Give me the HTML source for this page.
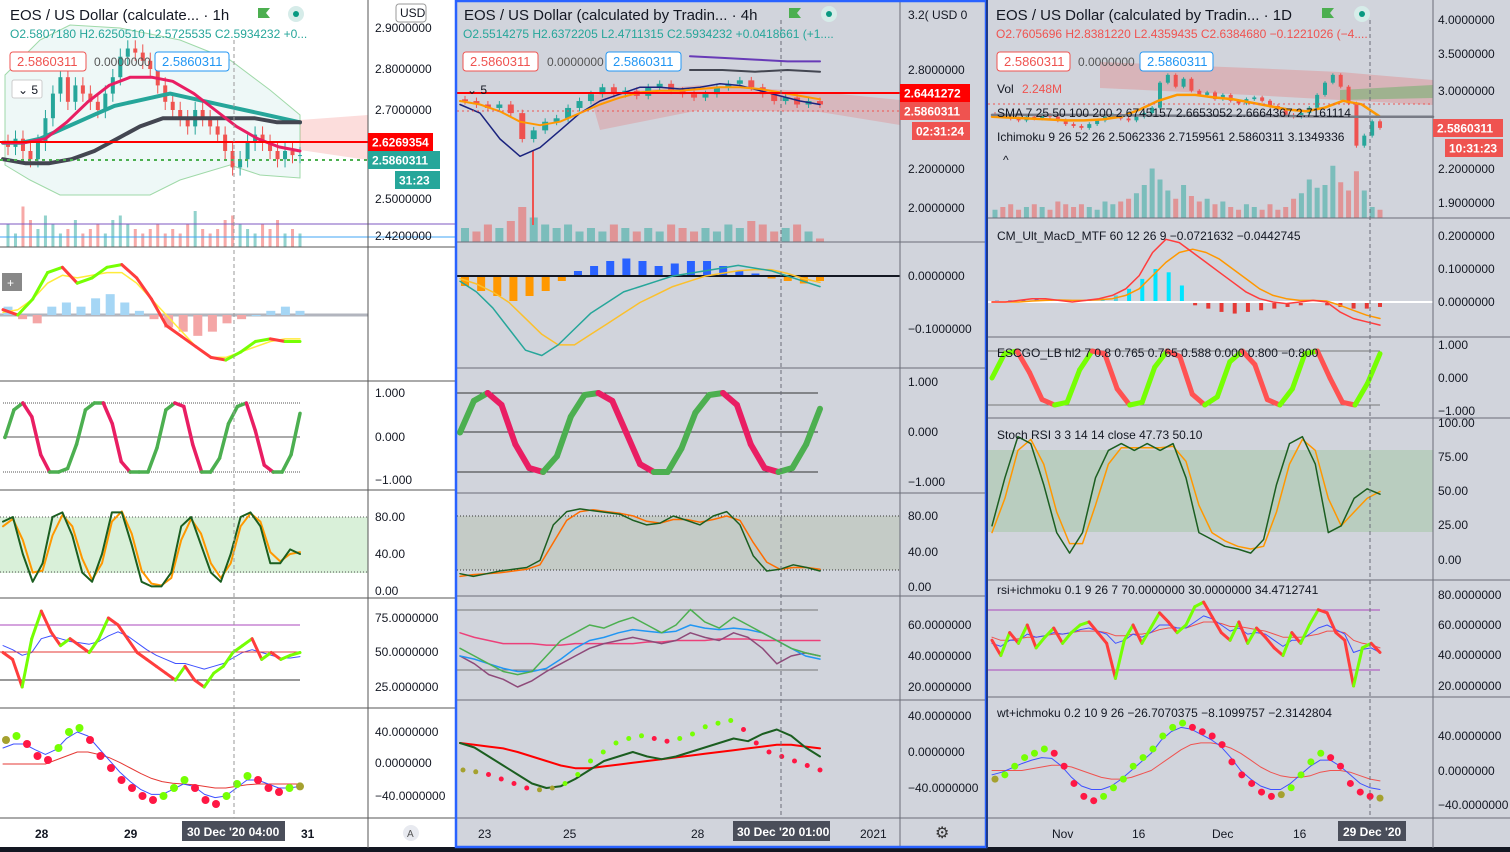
<!DOCTYPE html>
<html><head><meta charset="utf-8">
<style>
html,body{margin:0;padding:0;background:#000;}
svg{display:block;font-family:"Liberation Sans",sans-serif;}
</style></head>
<body>
<svg id="chart" width="1510" height="852" viewBox="0 0 1510 852" xmlns="http://www.w3.org/2000/svg">
<rect x="0" y="0" width="456" height="848" fill="#ffffff"/>
<rect x="456" y="0" width="530" height="848" fill="#d1d4dc"/>
<rect x="986" y="0" width="524" height="848" fill="#d1d4dc"/>
<rect x="0" y="847" width="1510" height="5" fill="#131722"/>
<g id="layer"></g>
</svg>
<script>
// ===== DATA =====
const leftClose=[2.61,2.63,2.60,2.58,2.62,2.68,2.74,2.78,2.72,2.76,2.74,2.72,2.70,2.74,2.78,2.83,2.85,2.84,2.82,2.80,2.76,2.72,2.70,2.68,2.66,2.70,2.68,2.66,2.64,2.60,2.56,2.58,2.62,2.64,2.62,2.60,2.58,2.60,2.59,2.59];
const leftVol=[0.5,0.3,0.9,0.6,0.4,0.7,0.5,0.3,0.4,0.6,0.3,0.4,0.5,0.3,0.6,0.7,0.5,0.4,0.3,0.4,0.5,0.3,0.4,0.3,0.5,0.8,0.4,0.3,0.4,0.6,0.7,0.5,0.4,0.3,0.5,0.4,0.6,0.3,0.4,0.3];
const leftMaTeal=[2.62,2.62,2.63,2.65,2.67,2.69,2.71,2.72,2.73,2.74,2.73,2.72,2.71,2.70,2.69,2.68,2.67];
const leftMaBlack=[2.58,2.57,2.57,2.58,2.60,2.63,2.66,2.68,2.68,2.68,2.68,2.68,2.67,2.67];
const leftMaPink=[2.62,2.62,2.63,2.67,2.72,2.76,2.78,2.78,2.77,2.74,2.70,2.66,2.63,2.61,2.60];
const leftMacdLine=[0.1,0.0,0.3,0.8,0.9,0.6,0.7,0.9,0.95,0.7,0.3,-0.2,-0.4,-0.6,-0.8,-0.85,-0.7,-0.5,-0.45,-0.5,-0.5];
const leftMacdSig=[0.05,0.1,0.3,0.6,0.75,0.7,0.75,0.8,0.8,0.6,0.3,0,-0.3,-0.6,-0.8,-0.8,-0.7,-0.6,-0.5,-0.45,-0.45];
const leftMacdHist=[0.1,-0.05,-0.1,0.1,0.15,0.1,0.2,0.25,0.15,0.05,-0.05,-0.15,-0.2,-0.25,-0.2,-0.1,-0.05,0,0.05,0.1,0.05];
const leftOsc=[0,0.8,1,0.6,-0.5,-1,-1,-0.9,-0.2,0.8,1,1,0.4,-0.7,-1,-1,-1,-0.3,0.8,1,0.9,-0.2,-1,-1,-0.6,0.4,0.9,1,0.2,-0.8,-1,-1,-0.5,0.7];
const leftStochK=[75,80,40,10,30,80,85,60,20,10,40,85,85,50,10,5,5,20,70,80,50,20,10,40,80,85,70,30,30,45,40];
const leftStochD=[70,78,55,20,22,60,82,70,35,12,30,75,86,62,22,8,6,14,55,78,62,30,14,30,70,84,75,42,32,40,42];
const leftRsi=[50,45,25,60,80,65,55,60,55,50,60,75,70,60,50,45,40,35,30,40,30,25,35,40,50,55,60,45,50,45,48,50];
const leftRsiBlue=[55,52,48,50,60,62,60,58,57,56,58,62,65,62,57,52,48,45,42,42,40,38,40,42,46,50,52,50,48,46,46,47];
const leftWt=[30,35,25,10,5,20,40,45,30,10,-5,-20,-30,-40,-45,-40,-30,-20,-30,-45,-50,-40,-25,-15,-20,-30,-35,-30,-28];
const leftWtBlue=[20,25,25,18,12,18,32,40,35,20,5,-10,-22,-32,-38,-38,-32,-25,-28,-38,-42,-40,-30,-20,-20,-25,-30,-30,-28];
const leftWtRed=[0,0,0,0,0,5,10,15,15,12,8,2,-5,-12,-18,-22,-24,-25,-26,-28,-30,-30,-28,-26,-25,-25,-25,-25,-25];
const midClose=[2.62,2.60,2.58,2.60,2.55,2.40,2.45,2.50,2.52,2.58,2.62,2.66,2.70,2.66,2.68,2.65,2.70,2.72,2.68,2.66,2.64,2.66,2.70,2.72,2.74,2.70,2.66,2.62,2.64,2.60,2.62,2.60];
const midVol=[0.4,0.3,0.5,0.4,0.6,1.0,0.7,0.5,0.4,0.5,0.3,0.4,0.3,0.5,0.4,0.3,0.4,0.3,0.5,0.4,0.3,0.4,0.3,0.5,0.4,0.6,0.5,0.3,0.4,0.5,0.3,0.1];
const midMaOrange=[2.62,2.60,2.56,2.50,2.48,2.50,2.55,2.60,2.64,2.67,2.68,2.68,2.69,2.70,2.70,2.69,2.67,2.65,2.63];
const midMaNavy=[2.60,2.55,2.40,2.30,2.35,2.45,2.55,2.62,2.66,2.70,2.70,2.69,2.70,2.72,2.71,2.68,2.65,2.62,2.60];
const midMacdLine=[-0.01,-0.03,-0.06,-0.1,-0.14,-0.15,-0.13,-0.1,-0.07,-0.05,-0.03,-0.02,-0.01,0,0.005,0.01,0.015,0.02,0.015,0.01,0.0,-0.01,-0.02];
const midMacdSig=[-0.005,-0.015,-0.03,-0.05,-0.08,-0.11,-0.13,-0.13,-0.11,-0.09,-0.07,-0.05,-0.035,-0.02,-0.01,0,0.005,0.01,0.012,0.012,0.005,-0.005,-0.012];
const midMacdHist=[-0.02,-0.03,-0.04,-0.05,-0.04,-0.03,-0.01,0.01,0.02,0.03,0.035,0.03,0.02,0.025,0.03,0.03,0.02,0.01,0.005,-0.005,-0.01,-0.015,-0.01];
const midOsc=[0,0.8,1,0.7,-0.3,-0.9,-1,-0.6,0.4,0.95,1,0.8,0,-0.8,-1,-1,-0.4,0.5,0.95,1,0.7,-0.3,-0.9,-1,-0.9,-0.3,0.6];
const midStochK=[15,12,15,18,20,22,30,70,85,88,86,84,82,75,70,72,80,75,70,80,85,70,35,18,20,25,22,18];
const midStochD=[12,14,15,16,18,20,25,50,75,85,87,85,83,80,74,72,76,76,73,76,80,75,50,28,20,22,22,20];
const midRsiGreen=[45,40,35,30,28,30,40,50,55,60,58,62,65,60,55,60,70,62,58,65,60,55,50,45,42,40];
const midRsiBlue=[40,38,35,32,30,30,32,38,45,50,52,55,57,56,55,56,60,58,57,58,57,55,50,45,40,38];
const midRsiPink=[55,52,50,48,48,48,47,47,48,48,48,48,48,49,49,50,50,50,51,51,51,50,50,50,50,50];
const midRsiPurple=[40,35,28,25,20,24,30,35,40,45,48,50,52,50,48,50,55,52,50,55,52,45,35,40,42,40];
const midWtDots=[-20,-22,-25,-30,-35,-40,-42,-40,-35,-25,-10,0,10,15,18,15,12,15,20,28,32,35,25,10,0,-5,-10,-15,-20];
const midWtGreen=[10,5,-5,-15,-25,-35,-40,-38,-30,-20,-10,-5,0,-5,-8,-5,0,5,10,15,12,20,25,18,5,-5];
const midWtRed=[10,8,6,4,0,-5,-10,-15,-18,-18,-16,-14,-12,-10,-8,-6,-4,-2,0,2,4,6,8,8,6,4];
const rightClose=[2.72,2.70,2.68,2.66,2.70,2.68,2.72,2.70,2.66,2.62,2.60,2.58,2.62,2.66,2.70,2.72,2.68,2.66,2.70,2.74,2.80,3.10,3.20,3.05,3.15,3.00,2.95,2.98,2.90,2.95,2.88,2.85,2.90,2.92,2.88,2.82,2.78,2.72,2.70,2.74,2.80,2.95,3.10,3.20,3.05,2.85,2.40,2.50,2.65,2.58];
const rightVol=[0.15,0.2,0.25,0.15,0.2,0.25,0.2,0.15,0.3,0.25,0.2,0.25,0.2,0.15,0.3,0.25,0.3,0.35,0.45,0.6,0.9,0.7,0.5,0.35,0.6,0.4,0.3,0.35,0.25,0.3,0.2,0.15,0.25,0.2,0.15,0.25,0.15,0.2,0.35,0.45,0.7,0.55,0.6,0.95,0.65,0.5,0.85,0.5,0.2,0.15];
const rightMaOrange=[2.70,2.69,2.68,2.67,2.66,2.66,2.67,2.70,2.78,2.88,2.95,2.95,2.92,2.90,2.86,2.82,2.78,2.76,2.80,2.88,2.84,2.70];
const rightMacdLine=[0,0.0,0.005,0.01,0.01,0.005,0,0.005,0.01,0.02,0.04,0.08,0.15,0.19,0.18,0.15,0.12,0.09,0.06,0.03,0.01,0,-0.005,0,0.005,0.0,-0.03,-0.05,-0.06,-0.07];
const rightMacdSig=[0,0,0,0.003,0.005,0.006,0.005,0.005,0.007,0.01,0.02,0.04,0.08,0.12,0.15,0.16,0.15,0.13,0.1,0.07,0.04,0.02,0.01,0.005,0.005,0.003,-0.01,-0.025,-0.04,-0.05];
const rightMacdHist=[0.004,0.005,0.006,0.008,0.006,0.004,0.005,0.008,0.01,0.02,0.04,0.07,0.1,0.09,0.05,-0.01,-0.02,-0.03,-0.035,-0.03,-0.025,-0.02,-0.015,-0.01,0.005,-0.01,-0.015,-0.02,-0.02,-0.015];
const rightOsc=[0,0.9,1,0.2,-0.8,-1,-0.9,0.3,1,0.9,-0.4,-1,-0.9,0.4,1,0.8,-0.6,-1,-0.7,0.6,1,0.5,-0.8,-1,-0.4,0.9,1,0,-0.9,-1,-0.2,0.9];
const rightStochK=[25,60,90,85,55,20,5,20,60,80,85,80,85,80,85,60,20,15,10,8,5,15,55,85,90,70,20,25,45,52,48];
const rightStochD=[20,45,80,88,70,35,12,12,40,70,82,82,82,82,83,72,40,20,14,10,8,10,35,70,88,80,45,25,35,45,50];
const rightRsi=[50,40,55,48,60,45,52,58,48,55,60,62,55,48,25,50,60,48,58,68,62,55,60,72,75,65,55,50,62,48,58,52,45,40,55,48,60,70,68,55,50,20,45,48,42];
const rightRsiBlue=[48,46,50,50,54,52,53,55,54,55,57,58,56,54,48,50,54,52,55,60,60,58,58,62,66,64,60,56,58,54,55,54,50,46,50,50,54,58,60,57,54,42,44,45,42];
const rightRsiRed=[52,50,50,51,52,52,53,54,54,55,56,56,56,55,53,53,54,54,55,57,58,58,58,60,62,62,61,59,59,58,57,56,54,52,52,52,53,54,56,56,55,50,48,47,45];
const rightWt=[-10,-5,5,15,20,25,20,5,-15,-30,-35,-30,-20,-10,5,15,25,40,50,55,50,45,40,30,10,-5,-15,-25,-30,-28,-20,-5,10,20,15,5,-15,-25,-30,-32];
const rightWtBlue=[-5,-2,3,8,12,15,14,5,-8,-18,-22,-22,-18,-10,0,10,20,35,45,50,48,42,36,28,15,0,-10,-18,-22,-22,-15,-5,5,12,12,5,-5,-15,-20,-22];
const rightWtRed=[0,0,0,0,2,4,6,6,4,0,-4,-8,-10,-10,-8,-4,0,8,16,24,30,32,32,30,26,20,12,4,-2,-6,-8,-8,-6,-2,0,0,-2,-6,-10,-12];

const leftTicks=[["2.9000000",28],["2.8000000",69],["2.7000000",110],["2.5000000",199],["2.4200000",236],["1.000",393],["0.000",437],["−1.000",480],["80.00",517],["40.00",554],["0.00",591],["75.0000000",618],["50.0000000",652],["25.0000000",687],["40.0000000",732],["0.0000000",763],["−40.0000000",796]];
const midTicks=[["2.8000000",70],["2.2000000",169],["2.0000000",208],["0.0000000",276],["−0.1000000",329],["1.000",382],["0.000",432],["−1.000",482],["80.00",516],["40.00",552],["0.00",587],["60.0000000",625],["40.0000000",656],["20.0000000",687],["40.0000000",716],["0.0000000",752],["−40.0000000",788]];
const rightTicks=[["4.0000000",20],["3.5000000",54],["3.0000000",91],["2.2000000",169],["1.9000000",203],["0.2000000",236],["0.1000000",269],["0.0000000",302],["1.000",345],["0.000",378],["−1.000",411],["100.00",423],["75.00",457],["50.00",491],["25.00",525],["0.00",560],["80.0000000",595],["60.0000000",625],["40.0000000",655],["20.0000000",686],["40.0000000",736],["0.0000000",771],["−40.0000000",805]];

const NS='http://www.w3.org/2000/svg';
const root=document.getElementById('layer');
function mk(tag,attrs,name,parent){
  const e=document.createElementNS(NS,tag);
  for(const k in attrs)e.setAttribute(k,attrs[k]);
  
  
  (parent||root).appendChild(e);return e;}
function txt(x,y,s,attrs,name){const t=mk('text',Object.assign({x:x,y:y,'font-size':12,fill:'#131722'},attrs||{}),name);t.textContent=s;return t;}
function lin(v0,p0,v1,p1){return v=>p0+(v-v0)*(p1-p0)/(v1-v0);}
function xsc(n,xa,xb){return i=>xa+i*(xb-xa)/(n-1);}
function line(d,xa,xb,ys,color,w,name,dash){const xf=xsc(d.length,xa,xb);
  mk('polyline',{points:d.map((v,i)=>xf(i).toFixed(1)+','+ys(v).toFixed(1)).join(' '),fill:'none',stroke:color,'stroke-width':w,'stroke-linejoin':'round','stroke-linecap':'round','stroke-dasharray':dash||'none'},name);}
function osc(d,xa,xb,ys,up,dn,w,name){const xf=xsc(d.length,xa,xb);
  for(let i=1;i<d.length;i++){mk('line',{x1:xf(i-1),y1:ys(d[i-1]),x2:xf(i),y2:ys(d[i]),stroke:d[i]>=d[i-1]?up:dn,'stroke-width':w,'stroke-linecap':'round'},name);}}
function dots(d,xa,xb,ys,r,name){const xf=xsc(d.length,xa,xb);
  d.forEach((v,i)=>{const p=i>0?d[i-1]:v;const c=v>p+2?'#76ff03':(v<p-2?'#ff1744':'#a5a12f');mk('circle',{cx:xf(i),cy:ys(v),r:r,fill:c},name);});}
function bars(d,xa,xb,ys,zero,pos,neg,bw,name){const xf=xsc(d.length,xa,xb);
  d.forEach((v,i)=>{const y=ys(v),z=ys(zero);const pc=typeof pos==='function'?pos(v):pos;mk('rect',{x:xf(i)-bw/2,y:Math.min(y,z),width:bw,height:Math.max(1,Math.abs(y-z)),fill:v>=zero?pc:neg},name);});}
function vols(d,closes,xa,xb,base,h,bw,name){const xf=xsc(d.length,xa,xb);
  d.forEach((v,i)=>{const up=i==0||closes[i]>=closes[i-1];mk('rect',{x:xf(i)-bw/2,y:base-v*h,width:bw,height:v*h,fill:up?'rgba(38,166,154,0.5)':'rgba(239,83,80,0.5)'},name);});}
function candles(c,xa,xb,ys,bw,name){const xf=xsc(c.length,xa,xb);
  c.forEach((cl,i)=>{const o=i==0?cl+0.01:c[i-1];const hi=Math.max(o,cl)+0.02,lo=Math.min(o,cl)-0.02;const col=cl>=o?'#26a69a':'#ef5350';
    mk('line',{x1:xf(i),x2:xf(i),y1:ys(hi),y2:ys(lo),stroke:col,'stroke-width':1},name+'-wick');
    mk('rect',{x:xf(i)-bw/2,y:Math.min(ys(o),ys(cl)),width:bw,height:Math.max(1,Math.abs(ys(o)-ys(cl))),fill:col},name);});}
function hline(x1,x2,y,color,w,name,dash){mk('line',{x1:x1,x2:x2,y1:y,y2:y,stroke:color,'stroke-width':w,'stroke-dasharray':dash||'none'},name);}
function vline(x,y1,y2,color,w,name,dash){mk('line',{x1:x,x2:x,y1:y1,y2:y2,stroke:color,'stroke-width':w,'stroke-dasharray':dash||'none'},name);}
function label(x,y,w,s,bg,fg,name){mk('rect',{x:x,y:y-9,width:w,height:18,fill:bg},name+'-bg');txt(x+4,y+4.5,s,{fill:fg,'font-weight':'bold'},name);}
function box(x,y,w,s,col,name){mk('rect',{x:x,y:y,width:w,height:19,rx:3,fill:'#fff',stroke:col},name+'-box');txt(x+7,y+14,s,{fill:col,'font-size':13},name);}

// LEFT
const LX0=3,LX1=300;
const lpY=lin(2.9,28,2.8,69);
mk('polygon',{points:'5,75 40,40 70,25 120,28 180,40 230,60 270,90 300,115 300,178 260,175 230,165 180,180 150,195 100,195 60,195 30,180 5,165',fill:'rgba(38,166,154,0.08)',stroke:'#9fd9a8','stroke-width':1},'bollinger-band-left');
mk('polygon',{points:'300,120 368,115 368,160 300,150',fill:'rgba(239,83,80,0.2)'},'cloud-left-red');
vols(leftVol,leftClose,LX0+5,LX1,247,45,3,'volume-bar-left');
candles(leftClose,LX0+5,LX1,lpY,4,'candle-left');
line(leftMaTeal,LX0,LX1,lpY,'#26a69a',4,'ma-teal-left');
line(leftMaBlack,LX0,LX1,lpY,'#434651',4,'ma-black-left');
line(leftMaPink,LX0,LX1,lpY,'#e91e63',3,'ma-pink-left');
hline(0,368,142,'#ff0000',2,'price-line-red-left');
hline(0,368,160,'#4caf50',2,'price-line-green-left','3 4');
hline(0,455,224,'#7e57c2',1,'purple-line-left');
hline(0,455,237,'#42a5f5',1,'blue-line-left');
const lmY=lin(0,315,1,262);
hline(0,368,315,'#b2b5be',3,'zero-line-left-macd');
bars(leftMacdHist,LX0+5,LX1,lin(0,315,0.3,290),0,'#a5d6f5','#f4a6a6',9,'macd-hist-left');
line(leftMacdSig,LX0,LX1,lmY,'#ffeb3b',1.5,'macd-signal-left');
osc(leftMacdLine,LX0,LX1,lmY,'#76ff03','#ff3d3d',3,'macd-line-left');
const loY=lin(1,403,-1,472);
hline(3,300,403,'#555',1,'osc-upper-left','1 1');hline(3,300,437,'#555',1,'osc-zero-left');hline(3,300,472,'#555',1,'osc-lower-left','1 1');
osc(leftOsc,LX0+2,LX1,loY,'#4caf50','#e91e63',3.5,'escgo-osc-left');
const lsY=lin(80,517,0,591);
mk('rect',{x:0,y:517,width:368,height:56,fill:'#d9f0d9'},'stoch-band-left');
hline(0,368,517,'#555',1,'stoch-80-left','1 2');hline(0,368,572,'#555',1,'stoch-20-left','1 2');
line(leftStochD,LX0,LX1,lsY,'#ff9800',2,'stoch-d-left');
line(leftStochK,LX0,LX1,lsY,'#1b5e20',2,'stoch-k-left');
const lrY=lin(75,618,25,687);
hline(0,300,625,'#ab47bc',1,'rsi-70-left');hline(0,300,680,'#333',1,'rsi-30-left');
line(leftRsiBlue,LX0,LX1,lrY,'#3f51ff',1,'rsi-blue-left');
hline(0,300,652,'#e53935',1,'rsi-mid-left');
osc(leftRsi,LX0,LX1,lrY,'#76ff03','#ff3d3d',3,'rsi-line-left');
const lwY=lin(40,732,-40,796);
line(leftWtRed,LX0,LX1,lwY,'#e53935',1,'wt-red-left');
line(leftWtBlue,LX0,LX1,lwY,'#3f51ff',1,'wt-blue-left');
dots(leftWt,LX0+3,LX1,lwY,4,'wt-dot-left');

// MIDDLE
const MX0=460,MX1=820;
const mpY=lin(2.8,70,2.0,208);
mk('polygon',{points:'590,95 700,85 820,92 900,100 900,125 820,112 700,110 600,130',fill:'rgba(239,83,80,0.22)'},'ichimoku-cloud-mid');
line([2.88,2.87,2.86,2.85,2.85],690,820,mpY,'#673ab7',2,'ma-purple-mid');
line([2.8,2.8,2.79,2.8,2.79],690,820,mpY,'#434651',2,'ma-black-mid');
vols(midVol,midClose,MX0+5,MX1,242,35,8,'volume-bar-mid');
candles(midClose,MX0+5,MX1,mpY,6,'candle-mid');
mk('line',{x1:533,x2:533,y1:150,y2:225,stroke:'#ef5350','stroke-width':2},'spike-wick-mid');
line(midMaNavy,MX0,MX1,mpY,'#1a237e',1.5,'ma-navy-mid');
line(midMaOrange,MX0,MX1,mpY,'#ff9800',2,'ma-orange-mid');
hline(457,900,93,'#ff0000',2,'price-line-red-mid');
hline(457,900,111,'#ef5350',1,'price-line-dotted-mid','2 3');
const mmY=lin(0,276,-0.1,329);
bars(midMacdHist,MX0+5,MX1,lin(0,276,0.04,256),0,'#2962ff','#ff9800',8,'macd-hist-mid');
hline(457,900,276,'#131722',2,'zero-line-mid-macd');
line(midMacdSig,MX0,MX1,mmY,'#fbc02d',1.5,'macd-signal-mid');
line(midMacdLine,MX0,MX1,mmY,'#26a69a',1.5,'macd-line-mid');
const moY=lin(1,393,-1,472);
hline(457,818,393,'#333',1,'osc-upper-mid');hline(457,818,432,'#333',1,'osc-zero-mid');hline(457,818,472,'#333',1,'osc-lower-mid');
osc(midOsc,MX0,MX1,moY,'#4caf50','#e91e63',6,'escgo-osc-mid');
const msY=lin(80,516,0,587);
mk('rect',{x:457,y:516,width:443,height:54,fill:'#c4cbc6'},'stoch-band-mid');
hline(457,900,516,'#333',1,'stoch-80-mid','1 2');hline(457,900,570,'#333',1,'stoch-20-mid','1 2');
line(midStochD,MX0,MX1,msY,'#ff6d00',1.5,'stoch-d-mid');
line(midStochK,MX0,MX1,msY,'#1b5e20',1.5,'stoch-k-mid');
const mrY=lin(60,625,20,687);
hline(457,818,610,'#777',1,'rsi-70-mid');hline(457,818,670,'#777',1,'rsi-30-mid');
line(midRsiPink,MX0,MX1,mrY,'#ec407a',1.5,'rsi-pink-mid');
line(midRsiPurple,MX0,MX1,mrY,'#8e4a7a',1.5,'rsi-purple-mid');
line(midRsiBlue,MX0,MX1,mrY,'#2196f3',1.5,'rsi-blue-mid');
line(midRsiGreen,MX0,MX1,mrY,'#4caf50',1.5,'rsi-green-mid');
const mwY=lin(40,716,-40,788);
line(midWtRed,MX0,MX1,mwY,'#ff0000',2,'wt-red-mid');
line(midWtGreen,MX0,MX1,mwY,'#1b5e20',2,'wt-green-mid');
dots(midWtDots,MX0+3,MX1,mwY,2.5,'wt-dot-mid');

// RIGHT
const RX0=992,RX1=1380;
const rpY=v=>20+(Math.log(4)-Math.log(v))*246;
mk('polygon',{points:'1100,62 1250,68 1340,72 1433,80 1433,105 1340,100 1250,95 1100,88',fill:'rgba(239,83,80,0.25)'},'ichimoku-cloud-right');
mk('polygon',{points:'1340,90 1433,85 1433,98 1340,100',fill:'rgba(76,175,80,0.4)'},'ichimoku-cloud-green-right');
vols(rightVol,rightClose,RX0+3,RX1,218,55,5,'volume-bar-right');
candles(rightClose,RX0+3,RX1,rpY,4,'candle-right');
line(rightMaOrange,RX0,RX1,rpY,'#ff9800',2.5,'ma-orange-right');
line([2.72,2.72,2.71,2.71,2.70,2.70],RX0,1433,rpY,'#787b86',2.5,'ma-gray-right');
hline(988,1433,104,'#ef5350',1,'price-line-dotted-right','2 3');
const rmY=lin(0,302,0.1,269);
bars(rightMacdHist,RX0+5,RX1,rmY,0,v=>v>0.03?'#00e5ff':(v>0.008?'#4dd0e1':'#5c6bc0'),'#e53935',4,'macd-hist-right');
hline(988,1433,302,'#ffffff',2,'zero-line-right-macd');
line(rightMacdSig,RX0,RX1,rmY,'#ff9800',1.5,'macd-signal-right');
line(rightMacdLine,RX0,RX1,rmY,'#ff3d3d',1.5,'macd-line-right');
const roY=lin(1,351,-1,405);
hline(988,1380,351,'#777',1,'osc-upper-right');hline(988,1380,405,'#777',1,'osc-lower-right');
osc(rightOsc,RX0,RX1,roY,'#76ff03','#ff5252',5,'escgo-osc-right');
const rsY=lin(100,423,0,560);
mk('rect',{x:988,y:450,width:445,height:82,fill:'#b9cdbf'},'stoch-band-right');
line(rightStochD,RX0,RX1,rsY,'#ff9800',1.5,'stoch-d-right');
line(rightStochK,RX0,RX1,rsY,'#1b5e20',1.5,'stoch-k-right');
const rrY=lin(60,625,20,686);
hline(988,1380,610,'#ab47bc',1,'rsi-70-right');hline(988,1380,670,'#ab47bc',1,'rsi-30-right');
line(rightRsiRed,RX0,RX1,rrY,'#ef5350',1,'rsi-red-right');
line(rightRsiBlue,RX0,RX1,rrY,'#3f51ff',1,'rsi-blue-right');
osc(rightRsi,RX0,RX1,rrY,'#76ff03','#ff3d3d',3,'rsi-line-right');
const rwY=lin(40,736,-40,805);
line(rightWtRed,RX0,RX1,rwY,'#ef5350',1,'wt-red-right');
line(rightWtBlue,RX0,RX1,rwY,'#3f51ff',1,'wt-blue-right');
dots(rightWt,RX0+3,RX1,rwY,3.5,'wt-dot-right');

// STRUCTURE
const leftSeps=[247,381,490,598,708,818], midSeps=[242,368,493,596,700,818], rightSeps=[218,337,418,580,697,818];
leftSeps.forEach(y=>hline(0,455,y,'#555',1,'pane-separator-left'));
midSeps.forEach(y=>hline(457,985,y,'#6a6d78',1,'pane-separator-mid'));
rightSeps.forEach(y=>hline(988,1510,y,'#6a6d78',1,'pane-separator-right'));
vline(368,0,848,'#555',1,'price-axis-border-left');
vline(900,0,848,'#6a6d78',1,'price-axis-border-mid');
vline(1433,0,848,'#6a6d78',1,'price-axis-border-right');
vline(234,40,818,'#999',1,'crosshair-left','4 3');
vline(781,20,818,'#6a6d78',1,'crosshair-mid','4 3');
vline(1370,20,818,'#6a6d78',1,'crosshair-right','4 3');
leftTicks.forEach(t=>txt(375,t[1]+4,t[0],{}, 'price-tick-left'));
midTicks.forEach(t=>txt(908,t[1]+4,t[0],{}, 'price-tick-mid'));
rightTicks.forEach(t=>txt(1438,t[1]+4,t[0],{}, 'price-tick-right'));
label(368,142,65,'2.6269354','#ff0000','#fff','last-price-red-left');
label(368,160,72,'2.5860311','#26a69a','#fff','last-price-left');
label(395,180,45,'31:23','#26a69a','#fff','countdown-left');
label(900,93,70,'2.6441272','#ff0000','#fff','last-price-red-mid');
label(900,111,70,'2.5860311','#ef5350','#fff','last-price-mid');
label(912,131,58,'02:31:24','#ef5350','#fff','countdown-mid');
label(1433,128,70,'2.5860311','#ef5350','#fff','last-price-right');
label(1445,148,58,'10:31:23','#ef5350','#fff','countdown-right');
mk('rect',{x:396,y:4,width:30,height:18,rx:3,fill:'#fff',stroke:'#999'},'usd-badge-left');
txt(400,17,'USD',{},'usd-label-left');
txt(908,19,'3.2(',{},'top-tick-mid');txt(932,19,'USD 0',{},'usd-label-mid');
[['28',41],['29',130],['31',307]].forEach(t=>txt(t[1]-6,838,t[0],{'font-weight':'bold'},'time-tick-left'));
mk('rect',{x:182,y:821,width:103,height:20,fill:'#4a4e5a'},'time-crosshair-left-bg');
txt(187,836,"30 Dec '20   04:00",{fill:'#fff','font-weight':'bold'},'time-crosshair-left');
mk('circle',{cx:411,cy:833,r:8,fill:'#e8eaf0'},'auto-scale-button');txt(407,837,'A',{'font-size':10,fill:'#555'},'auto-scale-label');
[['23',484],['25',569],['28',697],['2021',866]].forEach(t=>txt(t[1]-6,838,t[0],{},'time-tick-mid'));
mk('rect',{x:733,y:821,width:97,height:20,fill:'#4a4e5a'},'time-crosshair-mid-bg');
txt(737,836,"30 Dec '20   01:00",{fill:'#fff','font-weight':'bold'},'time-crosshair-mid');
txt(935,838,'⚙',{'font-size':16,fill:'#333'},'settings-icon');
[['Nov',1060],['16',1140],['Dec',1220],['16',1301]].forEach(t=>txt(t[1]-8,838,t[0],{},'time-tick-right'));
mk('rect',{x:1338,y:821,width:68,height:20,fill:'#4a4e5a'},'time-crosshair-right-bg');
txt(1343,836,"29 Dec '20",{fill:'#fff','font-weight':'bold'},'time-crosshair-right');
mk('rect',{x:456,y:1,width:530,height:846,fill:'none',stroke:'#2962ff','stroke-width':2.5},'active-panel-border');
vline(987,0,848,'#1e3a8a',2,'panel-divider-right');
txt(10,20,'EOS / US Dollar (calculate...  · 1h',{'font-size':15},'title-left');
txt(464,20,'EOS / US Dollar (calculated by Tradin...  · 4h',{'font-size':15},'title-mid');
txt(996,20,'EOS / US Dollar (calculated by Tradin...  · 1D',{'font-size':15},'title-right');
[[258,'title-flag-left'],[789,'title-flag-mid'],[1322,'title-flag-right']].forEach(f=>mk('polygon',{points:`${f[0]},8 ${f[0]+12},8 ${f[0]+8},13 ${f[0]+12},18 ${f[0]},18`,fill:'#4caf50'},f[1]));
[[296,'status-dot-left'],[829,'status-dot-mid'],[1362,'status-dot-right']].forEach(f=>{mk('circle',{cx:f[0],cy:14,r:8,fill:'#d6ece9'},f[1]+'-bg');mk('circle',{cx:f[0],cy:14,r:3,fill:'#089981'},f[1]);});
txt(10,38,'O2.5807180 H2.6250510 L2.5725535 C2.5934232 +0...',{fill:'#26a69a'},'ohlc-left');
txt(463,38,'O2.5514275 H2.6372205 L2.4711315 C2.5934232 +0.0418661 (+1....',{fill:'#26a69a'},'ohlc-mid');
txt(996,38,'O2.7605696 H2.8381220 L2.4359435 C2.6384680 −0.1221026 (−4....',{fill:'#ef5350'},'ohlc-right');
box(10,52,76,'2.5860311','#ef5350','sell-price-left');txt(94,66,'0.0000000',{fill:'#555'},'spread-left');box(155,52,74,'2.5860311','#2196f3','buy-price-left');
box(463,52,75,'2.5860311','#ef5350','sell-price-mid');txt(547,66,'0.0000000',{fill:'#555'},'spread-mid');box(606,52,75,'2.5860311','#2196f3','buy-price-mid');
box(997,52,73,'2.5860311','#ef5350','sell-price-right');txt(1078,66,'0.0000000',{fill:'#555'},'spread-right');box(1140,52,73,'2.5860311','#2196f3','buy-price-right');
mk('rect',{x:12,y:80,width:30,height:18,rx:2,fill:'#fff',stroke:'#ccc'},'collapse-button-left');txt(18,94,'⌄ 5',{},'collapse-label-left');
txt(467,94,'⌄ 5',{},'collapse-label-mid');
txt(997,93,'Vol ',{},'vol-legend');txt(1022,93,'2.248M',{fill:'#ef5350'},'vol-value');
txt(997,117,'SMA 7 25 50 100 200  2.6745157  2.6653052  2.6664367  2.7161114',{},'sma-legend');
txt(997,141,'Ichimoku 9 26 52 26  2.5062336  2.7159561  2.5860311  3.1349336',{},'ichimoku-legend');
txt(1003,164,'^',{},'collapse-legend-right');
mk('rect',{x:2,y:273,width:20,height:18,fill:'#888'},'add-button');txt(7,287,'+',{fill:'#fff'},'add-button-label');
txt(997,240,'CM_Ult_MacD_MTF 60 12 26 9  −0.0721632  −0.0442745',{},'macd-legend-right');
txt(997,357,'ESCGO_LB hl2 7 0.8  0.765  0.765  0.588  0.000  0.800  −0.800',{},'escgo-legend-right');
txt(997,439,'Stoch RSI 3 3 14 14 close  47.73  50.10',{},'stoch-legend-right');
txt(997,594,'rsi+ichmoku 0.1 9 26 7  70.0000000  30.0000000  34.4712741',{},'rsi-legend-right');
txt(997,717,'wt+ichmoku 0.2 10 9 26  −26.7070375  −8.1099757  −2.3142804',{},'wt-legend-right');
</script>
</body></html>
